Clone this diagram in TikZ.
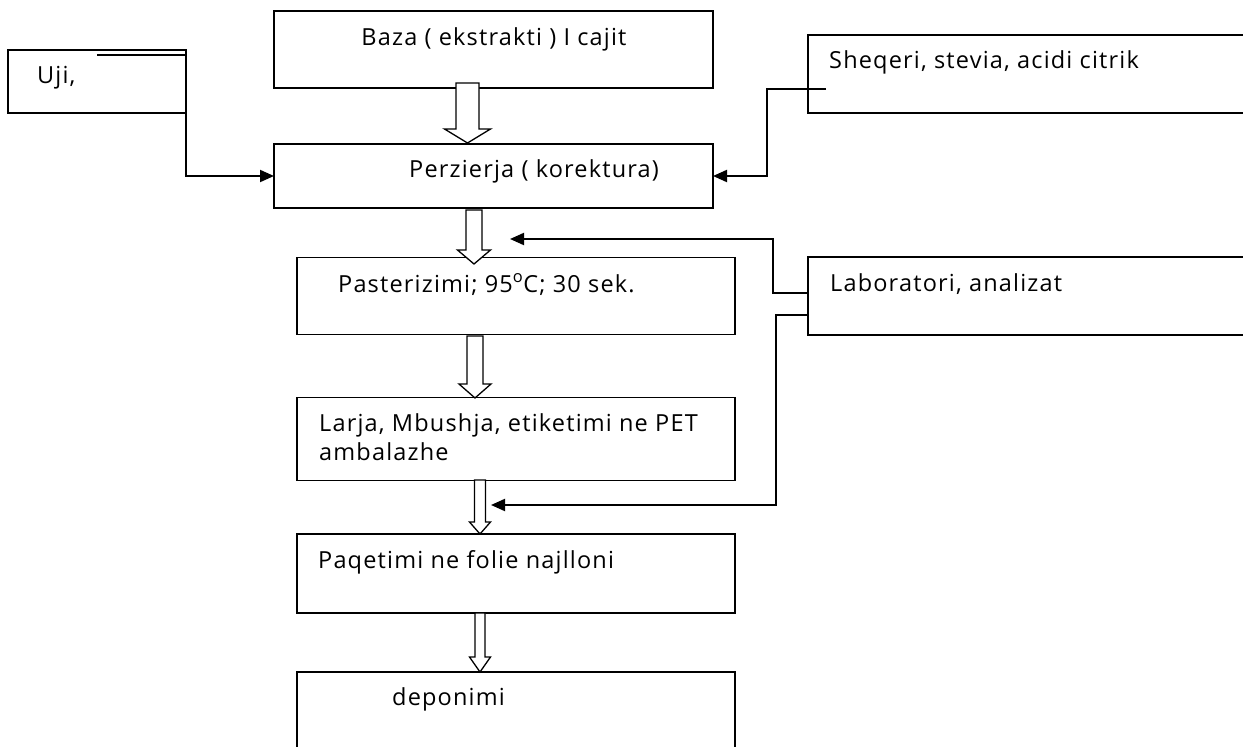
\documentclass[tikz,border=0pt]{standalone}
\usepackage{fontspec}
\setmainfont{Open Sans}[LetterSpace=5]
\usetikzlibrary{arrows.meta}
\tikzset{
	>={Triangle[length=14pt, width=12pt]}, % filled arrow heads
	procbox/.style={draw, line width=1.3pt, inner sep=0pt, outer sep=0pt}, % every step of the process
	txt/.style={anchor=base west, inner sep=0pt, font=\fontsize{23.5}{29}\selectfont}, % texts in the boxes
	flow/.style={->, line width=2pt}, % thin arrows from the side boxes
	hollow/.style={draw, line width=1.3pt, fill=white}, % the wide white arrows
}
% centre x, top, tip, half shaft, half head, head length
\newcommand{\hollowarrow}[6]{%
	\draw[hollow] (#1-#4,#2) -- (#1+#4,#2) -- (#1+#4,#3-#6) -- (#1+#5,#3-#6) -- (#1,#3)
		-- (#1-#5,#3-#6) -- (#1-#4,#3-#6) -- cycle;}

\begin{document}
\begin{tikzpicture}[x=1pt, y=-1pt]
	\useasboundingbox (0,0) rectangle (1243,747);
	\clip (0,0) rectangle (1243,747);
	% boxes
	\node[procbox, minimum width=178, minimum height=63] (uji) at (97,81.5) {};
	\node[procbox, minimum width=439, minimum height=77] (baza) at (493.5,49.5) {};
	\node[procbox, minimum width=452, minimum height=78] (sheqeri) at (1034,74) {};
	\node[procbox, minimum width=439, minimum height=64] (perzierja) at (493.5,176) {};
	\node[procbox, minimum width=438, minimum height=77] (pasterizimi) at (516,296) {};
	\node[procbox, minimum width=452, minimum height=78] (laboratori) at (1034,296) {};
	\node[procbox, minimum width=438, minimum height=83] (larja) at (516,439) {};
	\node[procbox, minimum width=438, minimum height=79] (paqetimi) at (516,573.5) {};
	\node[procbox, minimum width=438, minimum height=90] (deponimi) at (516,717) {};
	% texts
	\node[txt] (ujitxt) at (37,83) {Uji,};
	\node[txt, anchor=base] (bazatxt) at (494,45) {Baza ( ekstrakti ) I cajit};
	\node[txt] (sheqeritxt) at (829,68) {Sheqeri, stevia, acidi citrik};
	\node[txt] (perzierjatxt) at (409,177) {Perzierja ( korektura)};
	\node[txt] (pasterizimitxt) at (338,292) {Pasterizimi; 95\textsuperscript{o}C; 30 sek.};
	\node[txt] (laboratoritxt) at (830,291) {Laboratori, analizat};
	\node[txt, align=left] (larjatxt) at (319,460) {Larja, Mbushja, etiketimi ne PET\\ambalazhe};
	\node[txt] (paqetimitxt) at (318,568) {Paqetimi ne folie najlloni};
	\node[txt] (deponimitxt) at (392,705) {deponimi};
	% wide arrows
	\hollowarrow{467.5}{83}{143}{11.5}{23}{14}
	\hollowarrow{474}{210}{264}{8}{16.5}{14}
	\hollowarrow{475}{336}{398}{8}{16}{14}
	\hollowarrow{480}{480}{534}{5.5}{10.5}{12}
	\hollowarrow{480}{613}{672}{5}{10.5}{15}
	% side inputs
	\coordinate (ujiS) at (97,55);
	\coordinate (sheqS) at (826,89);
	\coordinate (sheqK) at (767,89);
	\coordinate (labA) at (808,293);
	\coordinate (labAK) at (773,293);
	\coordinate (labAT) at (510,239);
	\coordinate (labB) at (808,315);
	\coordinate (labBK) at (776,315);
	\coordinate (labBT) at (491,505);
	\draw[flow] (ujiS) -- (ujiS -| uji.east) |- (perzierja.west);
	\draw[flow] (sheqS) -- (sheqK) |- (perzierja.east);
	\draw[flow] (labA) -- (labAK) |- (labAT);
	\draw[flow] (labB) -- (labBK) |- (labBT);
\end{tikzpicture}
\end{document}
